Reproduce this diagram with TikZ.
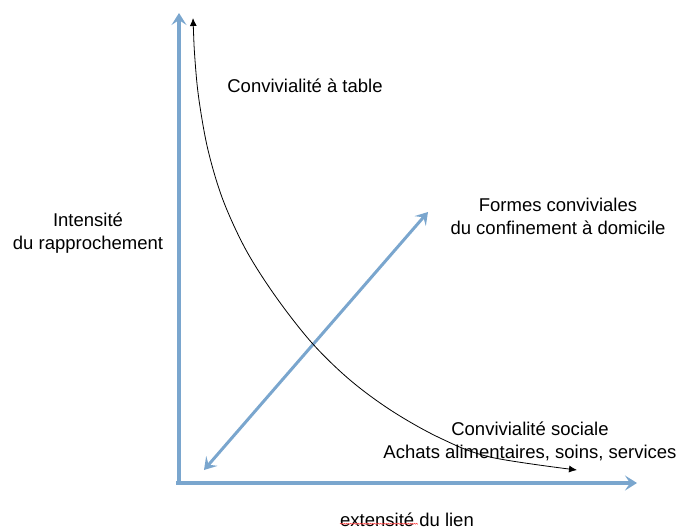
\documentclass[tikz,border=0pt]{standalone}
\usepackage{fontspec}
\setmainfont{Liberation Sans}
\usetikzlibrary{arrows.meta,decorations.pathmorphing}
\definecolor{axisblue}{RGB}{122,166,206}
\tikzset{
  axisline/.style={draw=axisblue,line width=3.2pt,-{Stealth[length=12pt,width=15pt,inset=5pt]}},
  dblline/.style={draw=axisblue,line width=3pt,{Stealth[length=12pt,width=15pt,inset=5pt]}-{Stealth[length=12pt,width=15pt,inset=5pt]}},
  curveline/.style={draw=black,line width=0.8pt,{Latex[length=8pt,width=7pt]}-{Latex[length=8pt,width=7pt]}},
  lbl/.style={font=\fontsize{18.5}{23}\selectfont,align=center,inner sep=0pt}
}
\begin{document}
\begin{tikzpicture}[x=1pt,y=-1pt]
\useasboundingbox (0,0) rectangle (680,531);
\coordinate (O) at (179,483);
\coordinate (Ytop) at (179,13);
\coordinate (Xend) at (637,483);
\coordinate (O2) at (176,483);
\draw[axisline] (O) -- (Ytop);
\draw[axisline] (O2) -- (Xend);
\coordinate (D1) at (204,470);
\coordinate (D2) at (428,212);
\draw[dblline] (D1) -- (D2);
\draw[curveline] plot[smooth,tension=0.55] coordinates {(193,18) (195,60) (199,100) (208,150) (223,200) (246,250) (276,297) (312,343) (350,380) (392,411) (440,438) (490,457) (577,470)};
\node[lbl] (t1) at (305,86) {Convivialité à table};
\node[lbl] (t2) at (558,216) {Formes conviviales\\du confinement à domicile};
\node[lbl] (t3) at (88,233) {Intensité\\du rapprochement};
\node[lbl] (t4) at (530,441) {Convivialité sociale\\Achats alimentaires, soins, services};
\node[lbl] (t5) at (407,520) {extensité du lien};
\coordinate (u1) at ([yshift=3pt]t5.base west);
\coordinate (u2) at ([xshift=78pt,yshift=3pt]t5.base west);
\draw[red!70,line width=0.5pt,decorate,decoration={zigzag,segment length=2pt,amplitude=0.5pt}] (u1) -- (u2);
\end{tikzpicture}
\end{document}
